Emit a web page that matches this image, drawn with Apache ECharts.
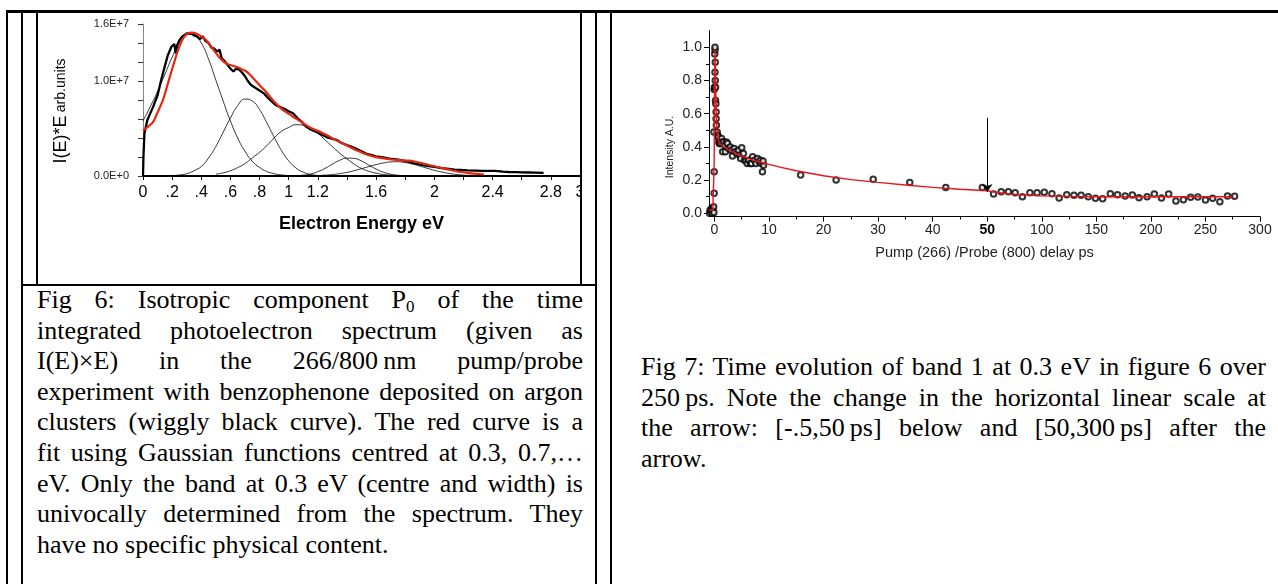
<!DOCTYPE html>
<html>
<head>
<meta charset="utf-8">
<script src="https://cdn.jsdelivr.net/npm/echarts@6/dist/echarts.min.js"></script>
<style>
html, body { margin: 0; padding: 0; background: #fff; }
#page { position: relative; width: 1278px; height: 584px; overflow: hidden; }
.ln { position: absolute; background: #000; }
#fig6 { position: absolute; left: 38px; top: 12px; width: 542px; height: 272px; overflow: hidden; }
#fig7 { position: absolute; left: 612px; top: 12px; width: 666px; height: 300px; }
.cap { position: absolute; font-family: "Liberation Serif", "Times New Roman", serif; font-size: 26px; color: #000; }
.cap div { height: 30.6px; line-height: 30.6px; text-align: justify; text-align-last: justify; }
.cap div.last { text-align-last: left; }
.cap sub { font-size: 17px; line-height: 0; vertical-align: -4px; }
</style>
</head>
<body>
<div id="page">
  <!-- table rules -->
  <div class="ln" style="left:6px;top:10px;width:1272px;height:2.5px"></div>
  <div class="ln" style="left:6px;top:10px;width:2px;height:574px"></div>
  <div class="ln" style="left:21px;top:10px;width:2px;height:574px"></div>
  <div class="ln" style="left:36px;top:10px;width:2px;height:276px"></div>
  <div class="ln" style="left:580px;top:10px;width:2px;height:276px"></div>
  <div class="ln" style="left:21px;top:284px;width:576px;height:2px"></div>
  <div class="ln" style="left:595px;top:10px;width:2px;height:574px"></div>
  <div class="ln" style="left:610px;top:10px;width:2px;height:574px"></div>

  <div id="fig6"></div>
  <div id="fig7"></div>

  <div class="cap" style="left:37px;top:285px;width:546px">
    <div>Fig 6: Isotropic component P<sub>0</sub> of the time</div>
    <div>integrated photoelectron spectrum (given as</div>
    <div>I(E)×E) in the 266/800&#8201;nm pump/probe</div>
    <div>experiment with benzophenone deposited on argon</div>
    <div>clusters (wiggly black curve). The red curve is a</div>
    <div>fit using Gaussian functions centred at 0.3, 0.7,…</div>
    <div>eV. Only the band at 0.3 eV (centre and width) is</div>
    <div>univocally determined from the spectrum. They</div>
    <div class="last">have no specific physical content.</div>
  </div>

  <div class="cap" style="left:641px;top:352px;width:625px">
    <div>Fig 7: Time evolution of band 1 at 0.3 eV in figure 6 over</div>
    <div>250&#8201;ps. Note the change in the horizontal linear scale at</div>
    <div>the arrow: [-.5,50&#8201;ps] below and [50,300&#8201;ps] after the</div>
    <div class="last">arrow.</div>
  </div>
</div>
<script>
// ---------- Fig 6 : spectrum, energy in eV, signal in units of 1E+7 ----------
var spectrumEnergy = [
  0, 0.003, 0.01, 0.03, 0.07, 0.1, 0.12, 0.14, 0.17, 0.195,
  0.215, 0.225, 0.235, 0.25, 0.27, 0.3, 0.33, 0.35, 0.37, 0.39,
  0.41, 0.43, 0.45, 0.47, 0.49, 0.51, 0.525, 0.54, 0.56, 0.58,
  0.6, 0.62, 0.64, 0.66, 0.68, 0.7, 0.72, 0.74, 0.76, 0.78,
  0.8, 0.83, 0.86, 0.88, 0.9, 0.92, 0.95, 0.98, 1.0, 1.03,
  1.06, 1.09, 1.12, 1.15, 1.19, 1.22, 1.26, 1.3, 1.33, 1.36,
  1.4, 1.43, 1.46, 1.5, 1.53, 1.57, 1.6, 1.65, 1.69, 1.74,
  1.78, 1.82, 1.87, 1.92, 1.96, 2.0, 2.05, 2.1, 2.14, 2.19,
  2.23, 2.28, 2.33, 2.38, 2.42, 2.47, 2.51, 2.56, 2.6, 2.65,
  2.69, 2.75
];
var spectrumSignal = [
  0, 0.2, 0.45, 0.59, 0.73, 0.85, 0.98, 1.10, 1.27, 1.36,
  1.39, 1.29, 1.38, 1.43, 1.47, 1.50, 1.50, 1.48, 1.47, 1.44,
  1.47, 1.42, 1.40, 1.35, 1.34, 1.31, 1.33, 1.24, 1.21, 1.17,
  1.13, 1.10, 1.13, 1.12, 1.09, 1.05, 1.00, 0.96, 0.94, 0.92,
  0.90, 0.87, 0.82, 0.79, 0.76, 0.74, 0.72, 0.70, 0.68, 0.66,
  0.61, 0.57, 0.52, 0.49, 0.465, 0.44, 0.41, 0.39, 0.38, 0.35,
  0.325, 0.31, 0.29, 0.26, 0.236, 0.22, 0.207, 0.195, 0.183, 0.175,
  0.165, 0.15, 0.13, 0.115, 0.105, 0.095, 0.084, 0.075, 0.067, 0.063,
  0.06, 0.057, 0.053, 0.055, 0.053, 0.046, 0.042, 0.041, 0.039, 0.037,
  0.035, 0.032
];
var fitEnergy = [
  0, 0.035, 0.07, 0.1, 0.137, 0.17, 0.205, 0.235, 0.262, 0.285,
  0.308, 0.335, 0.365, 0.4, 0.434, 0.47, 0.502, 0.535, 0.571, 0.605,
  0.64, 0.675, 0.71, 0.745, 0.78, 0.81, 0.845, 0.88, 0.913, 0.945,
  0.98, 1.015, 1.05, 1.087, 1.12, 1.16, 1.2, 1.235, 1.28, 1.32,
  1.36, 1.395, 1.44, 1.49, 1.532, 1.58, 1.63, 1.69, 1.76, 1.826,
  1.87, 1.918, 1.97, 2.03, 2.1, 2.17, 2.24, 2.31, 2.34
];
var fitSignal = [
  0.48, 0.52, 0.57, 0.67, 0.80, 0.97, 1.15, 1.30, 1.41, 1.47,
  1.50, 1.51, 1.50, 1.47, 1.43, 1.36, 1.29, 1.23, 1.185, 1.165,
  1.15, 1.125, 1.10, 1.05, 0.99, 0.94, 0.886, 0.82, 0.763, 0.715,
  0.675, 0.64, 0.605, 0.57, 0.535, 0.50, 0.475, 0.45, 0.415, 0.38,
  0.35, 0.326, 0.29, 0.255, 0.228, 0.205, 0.19, 0.176, 0.167, 0.161,
  0.15, 0.134, 0.113, 0.092, 0.067, 0.045, 0.031, 0.021, 0.018
];
// gaussian bands of the fit
var band1Energy = [0, 0.05, 0.1, 0.15, 0.2, 0.25, 0.3, 0.35, 0.4, 0.45, 0.5, 0.55, 0.6, 0.65, 0.7, 0.75, 0.8, 0.85, 0.9, 0.95, 1.0, 1.05, 1.1];
var band1Signal = [0.58, 0.73, 0.89, 1.07, 1.25, 1.40, 1.49, 1.49, 1.40, 1.23, 1.01, 0.79, 0.58, 0.40, 0.26, 0.155, 0.09, 0.048, 0.024, 0.011, 0.005, 0.002, 0];
var band2Energy = [0.2, 0.25, 0.3, 0.35, 0.4, 0.45, 0.5, 0.55, 0.6, 0.65, 0.7, 0.75, 0.8, 0.85, 0.9, 0.95, 1.0, 1.05, 1.1, 1.15, 1.2, 1.25, 1.3];
var band2Signal = [0.004, 0.011, 0.024, 0.055, 0.10, 0.19, 0.31, 0.46, 0.61, 0.74, 0.81, 0.79, 0.70, 0.56, 0.41, 0.27, 0.16, 0.085, 0.04, 0.017, 0.006, 0.002, 0];
var band3Energy = [0.5, 0.55, 0.6, 0.65, 0.7, 0.75, 0.8, 0.85, 0.9, 0.95, 1.0, 1.05, 1.1, 1.15, 1.2, 1.25, 1.3, 1.35, 1.4, 1.45, 1.5, 1.55, 1.6, 1.65, 1.7, 1.75, 1.8];
var band3Signal = [0.019, 0.033, 0.055, 0.088, 0.13, 0.19, 0.25, 0.32, 0.40, 0.47, 0.51, 0.54, 0.535, 0.505, 0.45, 0.38, 0.31, 0.24, 0.18, 0.125, 0.08, 0.05, 0.03, 0.016, 0.009, 0.004, 0.002];
var band4Energy = [1.0, 1.05, 1.1, 1.15, 1.2, 1.25, 1.3, 1.35, 1.4, 1.45, 1.5, 1.55, 1.6, 1.65, 1.7, 1.75, 1.8, 1.85];
var band4Signal = [0.002, 0.004, 0.009, 0.02, 0.046, 0.08, 0.125, 0.165, 0.188, 0.185, 0.158, 0.115, 0.073, 0.04, 0.019, 0.008, 0.003, 0.001];
var band5Energy = [1.1, 1.15, 1.2, 1.25, 1.3, 1.35, 1.4, 1.45, 1.5, 1.55, 1.6, 1.65, 1.7, 1.75, 1.8, 1.85, 1.9, 1.95, 2.0, 2.05, 2.1, 2.15, 2.2, 2.25, 2.3, 2.35];
var band5Signal = [0.001, 0.002, 0.0045, 0.009, 0.015, 0.025, 0.038, 0.056, 0.077, 0.099, 0.12, 0.137, 0.148, 0.15, 0.141, 0.126, 0.105, 0.082, 0.06, 0.042, 0.027, 0.017, 0.0095, 0.005, 0.003, 0.001];

var energyTicks = [0, 0.2, 0.4, 0.6, 0.8, 1, 1.2, 1.6, 2, 2.4, 2.8, 3];
var energyTickText = ['0', '.2', '.4', '.6', '.8', '1', '1.2', '1.6', '2', '2.4', '2.8', '3'];
var signalTicks = [0, 1e7, 1.6e7];
var signalTickText = ['0.0E+0', '1.0E+7', '1.6E+7'];

// ---------- Fig 7 : band 1 intensity vs delay ----------
var delayPs = [
  -0.9, -0.8, -0.6, -0.5, -0.4, -0.3, -0.15, -0.1, -0.05, -0.05,
  -0.1, -0.05, 0, 0.05, 0.1, 0.1, 0.15, 0.1, 0.15, 0.2,
  0.2, 0.25, 0.3, 0.3, 0.35, 0.5, 0.6, 0.7, 0.8, 0.9,
  1.1, 1.3, 1.4, 1.5, 1.7, 1.9, 2.0, 2.2, 2.4, 2.6,
  2.9, 3.1, 3.3, 3.6, 3.8, 4.1, 4.4, 4.6, 4.8, 5.0,
  5.3, 5.5, 5.8, 6.0, 6.3, 6.6, 6.8, 7.0, 7.3, 7.6,
  7.9, 8.2, 8.4, 8.6, 8.8, 9.0, 8.9, 15.8, 22.3, 29.1,
  35.8, 42.4, 49.1, 55.8, 62.8, 69.4, 75.6, 82.2, 89.1, 95.7,
  102.3, 109.3, 115.9, 122.9, 129.5, 136, 142.6, 149.2, 155.8, 162.8,
  169.4, 176.4, 183, 189.1, 196.5, 203.1, 209.7, 216.3, 222.9, 229.8,
  236.4, 243, 250, 256.6, 263.2, 270.2, 276.7
];
var intensity = [
  0.0, 0.02, 0.01, 0.03, 0.0, 0.02, 0.04, 0.005, 0.12, 0.25,
  0.49, 0.745, 0.76, 0.96, 0.985, 1.0, 0.91, 0.85, 0.80, 0.76,
  0.68, 0.66, 0.61, 0.57, 0.53, 0.49, 0.47, 0.46, 0.43, 0.42,
  0.42, 0.45, 0.43, 0.37, 0.43, 0.41, 0.37, 0.43, 0.42, 0.39,
  0.40, 0.38, 0.345, 0.39, 0.37, 0.36, 0.38, 0.35, 0.33, 0.395,
  0.36, 0.32, 0.315, 0.30, 0.32, 0.30, 0.30, 0.34, 0.32, 0.30,
  0.33, 0.31, 0.32, 0.30, 0.25, 0.29, 0.315, 0.23, 0.20, 0.205,
  0.185, 0.155, 0.155, 0.116, 0.13, 0.13, 0.124, 0.10, 0.124, 0.124,
  0.126, 0.118, 0.092, 0.112, 0.108, 0.108, 0.10, 0.09, 0.088, 0.118,
  0.112, 0.104, 0.11, 0.094, 0.10, 0.116, 0.092, 0.116, 0.074, 0.082,
  0.096, 0.098, 0.08, 0.09, 0.07, 0.104, 0.102
];
var fitDelay = [
  -1, -0.3, -0.12, -0.05, 0.02, 0.1, 0.17, 0.25, 0.35, 0.5,
  0.7, 1.0, 1.5, 2, 3, 4, 5, 6, 7, 8,
  9, 10, 12, 15, 20, 25, 30, 35, 40, 45,
  50, 60, 70, 80, 90, 100, 125, 150, 200, 250,
  276
];
var fitValue = [
  0.02, 0.02, 0.03, 0.3, 0.75, 0.98, 0.9, 0.72, 0.58, 0.49,
  0.445, 0.42, 0.405, 0.395, 0.375, 0.36, 0.345, 0.333, 0.322, 0.312,
  0.303, 0.295, 0.278, 0.256, 0.226, 0.203, 0.186, 0.170, 0.156, 0.145,
  0.136, 0.125, 0.117, 0.112, 0.108, 0.105, 0.102, 0.10, 0.10, 0.10,
  0.10
];
// axis break at 50 ps: 10 ps per tick below, 50 ps per tick above
var delayTickPos = [0, 10, 20, 30, 40, 50, 60, 70, 80, 90, 100];
var delayTickText = ['0', '10', '20', '30', '40', '50', '100', '150', '200', '250', '300'];
var delayMinorPos = [5, 15, 25, 35, 45, 55, 65, 75, 85, 95];
var intensityTicks = [0, 0.2, 0.4, 0.6, 0.8, 1.0];
var intensityMinor = [0.1, 0.3, 0.5, 0.7, 0.9];
var arrowDelay = 50, arrowTop = 0.575, arrowTip = 0.128;

function toAxis(t) {
    return t <= 50 ? t : 50 + (t - 50) / 5;
}
function pairs(xs, ys, fx, fy) {
    return xs.map(function (x, i) { return [fx(x), fy(ys[i])]; });
}
function same(v) { return v; }
function e7(v) { return v * 1e7; }

var FONT = '"Liberation Sans", Arial, sans-serif';

var fig6 = echarts.init(document.getElementById('fig6'));
var fig7 = echarts.init(document.getElementById('fig7'));

function band(xs, ys) {
    return {
        type: 'line', smooth: true, showSymbol: false, silent: true,
        lineStyle: { color: '#000', width: 0.8 },
        data: pairs(xs, ys, same, e7)
    };
}

var option6 = {
    animation: false,
    textStyle: { fontFamily: FONT },
    grid: { left: 105, top: 12, width: 437, height: 152, outerBoundsMode: 'none' },
    xAxis: {
        type: 'value', min: 0, max: 3, interval: 0.2,
        axisLine: { show: true, lineStyle: { color: '#000', width: 2 } },
        axisTick: { show: true, length: 4, lineStyle: { color: '#000', width: 1 } },
        splitLine: { show: false },
        axisLabel: {
            customValues: energyTicks,
            formatter: function (v) {
                for (var i = 0; i < energyTicks.length; i++) {
                    if (Math.abs(energyTicks[i] - v) < 1e-6) return energyTickText[i];
                }
                return '';
            },
            fontSize: 16, color: '#000', margin: 9
        },
        name: 'Electron Energy eV', nameLocation: 'middle', nameGap: 39,
        nameTextStyle: { fontSize: 18, fontWeight: 'bold', color: '#000' }
    },
    yAxis: {
        type: 'value', min: 0, max: 1.6e7, interval: 2e6,
        axisLine: { show: true, onZero: false, lineStyle: { color: '#888', width: 1 } },
        axisTick: { show: true, length: 5, lineStyle: { color: '#333' } },
        splitLine: { show: false },
        axisLabel: {
            customValues: signalTicks,
            formatter: function (v) {
                var i = signalTicks.indexOf(v);
                return i < 0 ? '' : signalTickText[i];
            },
            fontSize: 11, color: '#222', margin: 14
        }
    },
    graphic: [{
        type: 'text', x: 23, y: 99, rotation: Math.PI / 2, silent: true,
        style: {
            text: '{a|I(E)*E} {b|arb.units}',
            align: 'center', verticalAlign: 'middle',
            rich: {
                a: { fontSize: 18, fontFamily: FONT, fill: '#000' },
                b: { fontSize: 14, fontFamily: FONT, fill: '#000' }
            }
        }
    }],
    series: [
        band(band1Energy, band1Signal),
        band(band2Energy, band2Signal),
        band(band3Energy, band3Signal),
        band(band4Energy, band4Signal),
        band(band5Energy, band5Signal),
        {
            name: 'spectrum', type: 'line', showSymbol: false, silent: true,
            lineStyle: { color: '#000', width: 2.3 },
            data: pairs(spectrumEnergy, spectrumSignal, same, e7)
        },
        {
            name: 'fit', type: 'line', smooth: 0.3, showSymbol: false, silent: true,
            lineStyle: { color: '#e8250e', width: 2.2 },
            data: pairs(fitEnergy, fitSignal, same, e7)
        }
    ]
};

var option7 = {
    animation: false,
    textStyle: { fontFamily: FONT },
    grid: { left: 97, top: 18.7, width: 551, height: 185.9, outerBoundsMode: 'none' },
    xAxis: [{
        type: 'value', min: -1, max: 100, position: 'bottom',
        axisLine: { show: true, onZero: false, lineStyle: { color: '#000', width: 1 } },
        axisTick: { show: true, customValues: delayTickPos, length: 5, lineStyle: { color: '#000' } },
        splitLine: { show: false },
        axisLabel: {
            customValues: delayTickPos,
            formatter: function (v) {
                var i = delayTickPos.indexOf(Math.round(v));
                var s = i < 0 ? '' : delayTickText[i];
                return s === '50' ? '{b|50}' : s;
            },
            fontSize: 14, color: '#222', margin: 7,
            rich: { b: { fontSize: 14, fontWeight: 'bold', color: '#000', fontFamily: FONT } }
        },
        name: 'Pump (266) /Probe (800) delay ps', nameLocation: 'middle', nameGap: 29,
        nameTextStyle: { fontSize: 14.5, color: '#222' }
    }, {
        type: 'value', min: -1, max: 100, position: 'bottom',
        axisLine: { show: false, onZero: false },
        axisTick: { show: true, customValues: delayMinorPos, length: 3, lineStyle: { color: '#000' } },
        axisLabel: { show: false },
        splitLine: { show: false }
    }],
    yAxis: [{
        type: 'value', min: -0.02, max: 1.1, position: 'left',
        axisLine: { show: true, onZero: false, lineStyle: { color: '#000', width: 1 } },
        axisTick: { show: true, customValues: intensityTicks, length: 5, lineStyle: { color: '#000' } },
        splitLine: { show: false },
        axisLabel: {
            customValues: intensityTicks,
            formatter: function (v) { return v.toFixed(1); },
            fontSize: 14, color: '#222', margin: 7
        }
    }, {
        type: 'value', min: -0.02, max: 1.1, position: 'left',
        axisLine: { show: false, onZero: false },
        axisTick: { show: true, customValues: intensityMinor, length: 3, lineStyle: { color: '#000' } },
        axisLabel: { show: false },
        splitLine: { show: false }
    }],
    graphic: [{
        type: 'text', x: 58, y: 135, rotation: Math.PI / 2, silent: true,
        style: {
            text: 'Intensity A.U.', align: 'center', verticalAlign: 'middle',
            fontSize: 10.5, fontFamily: FONT, fill: '#222'
        }
    }],
    series: [
        {
            name: 'fit', type: 'line', showSymbol: false, silent: true,
            lineStyle: { color: '#e8141a', width: 1.4 },
            data: pairs(fitDelay, fitValue, toAxis, same)
        },
        {
            name: 'band 1', type: 'scatter', symbol: 'emptyCircle', symbolSize: 5.5, silent: true,
            itemStyle: { color: '#000', borderColor: '#000', borderWidth: 0.8 },
            data: pairs(delayPs, intensity, toAxis, same),
            markLine: {
                silent: true, symbol: ['none', 'arrow'], symbolSize: 8,
                label: { show: false },
                lineStyle: { color: '#000', width: 1, type: 'solid' },
                data: [[{ coord: [toAxis(arrowDelay), arrowTop] }, { coord: [toAxis(arrowDelay), arrowTip] }]]
            }
        }
    ]
};

fig6.setOption(option6);
fig7.setOption(option7);
</script>
</body>
</html>
